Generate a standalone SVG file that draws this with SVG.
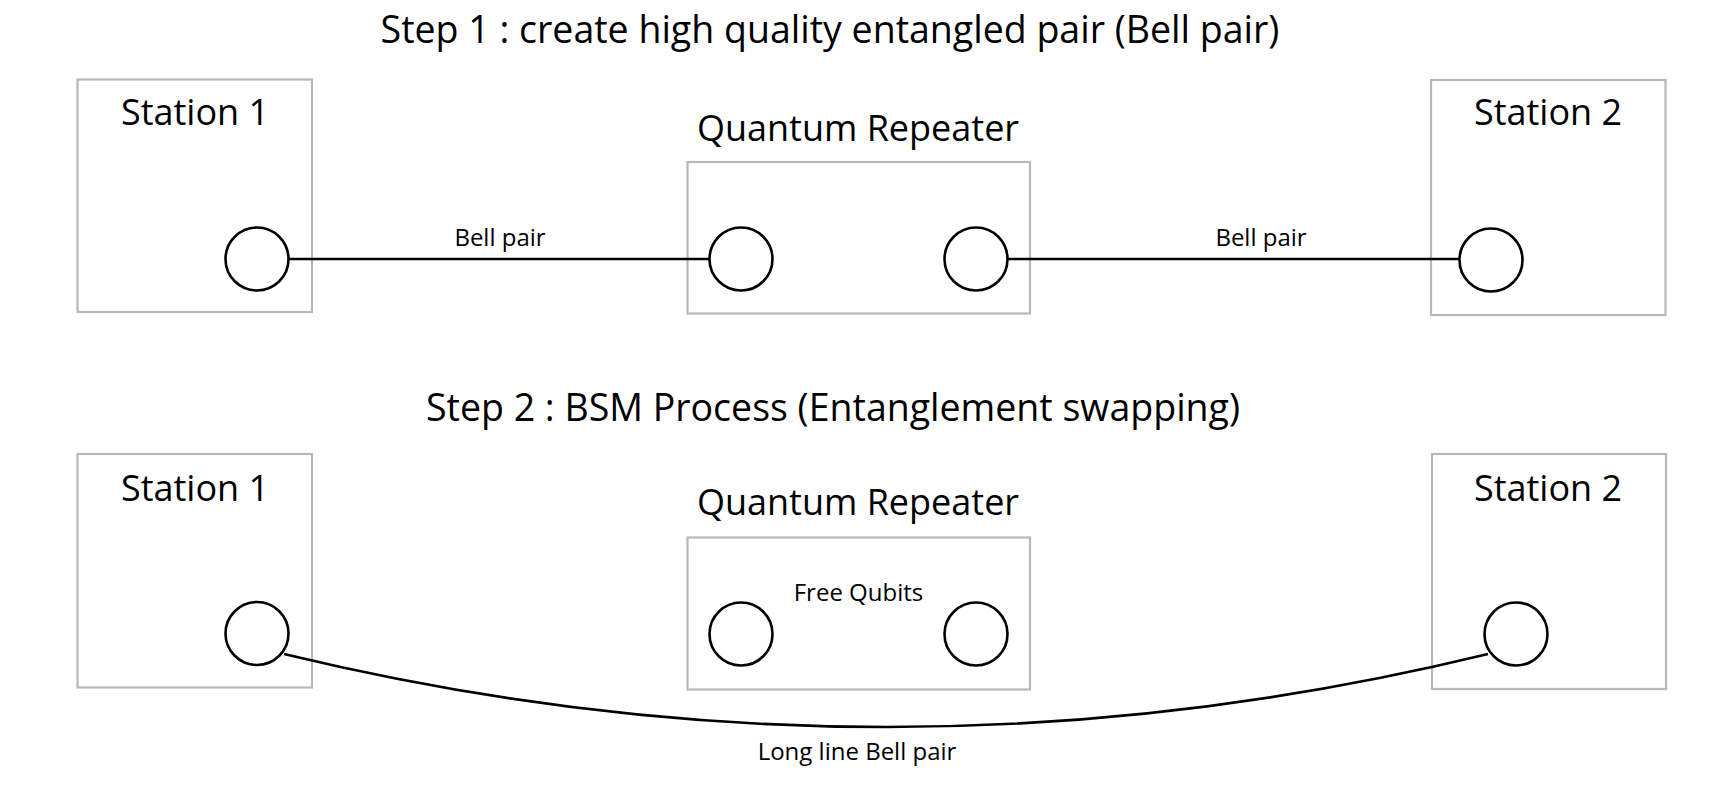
<svg xmlns="http://www.w3.org/2000/svg" width="1723" height="790" viewBox="0 0 1723 790">
<style>
.box{fill:#fff;stroke:#b8b8b8;stroke-width:2.2}
.q{fill:#fff;stroke:#000;stroke-width:2.6}
.ln{fill:none;stroke:#000;stroke-width:2.6}
text{font-family:"Open Sans","Liberation Sans",sans-serif;fill:#000;text-anchor:middle}
.t{font-size:37.5px}
.n{font-size:36px}
.s{font-size:24px}
</style>
<rect width="1723" height="790" fill="#fff"/>
<g id="titles">
<text class="t" x="830" y="43">Step 1 : create high quality entangled pair (Bell pair)</text>
<text class="t" x="833" y="421">Step 2 : BSM Process (Entanglement swapping)</text>
</g>
<g id="s1-station1">
<rect class="box" x="77.5" y="79.5" width="234.5" height="232.5"/>
<text class="n" x="195" y="125">Station 1</text>
</g>
<g id="s1-repeater">
<text class="n" x="858" y="141">Quantum Repeater</text>
<rect class="box" x="687.5" y="162" width="342.5" height="151.5"/>
</g>
<g id="s1-station2">
<rect class="box" x="1431" y="80" width="234.5" height="235"/>
<text class="n" x="1548" y="125">Station 2</text>
</g>
<g id="s2-station1">
<rect class="box" x="77.5" y="454" width="234.5" height="233.5"/>
<text class="n" x="195" y="501">Station 1</text>
</g>
<g id="s2-repeater">
<text class="n" x="858" y="515">Quantum Repeater</text>
<rect class="box" x="687.5" y="537.5" width="342.5" height="152"/>
<text class="s" x="858.5" y="601">Free Qubits</text>
</g>
<g id="s2-station2">
<rect class="box" x="1432" y="454" width="234" height="235"/>
<text class="n" x="1548" y="501">Station 2</text>
</g>
<g id="connectors">
<line class="ln" x1="288" y1="259" x2="710" y2="259"/>
<line class="ln" x1="1007" y1="259" x2="1460" y2="259"/>
<path class="ln" d="M284 654 Q888 800 1488 654"/>
<text class="s" x="500" y="246">Bell pair</text>
<text class="s" x="1261" y="246">Bell pair</text>
<text class="s" x="857" y="760">Long line Bell pair</text>
</g>
<g id="qubits">
<circle class="q" cx="257" cy="259" r="31.5"/>
<circle class="q" cx="741" cy="259" r="31.5"/>
<circle class="q" cx="976" cy="259" r="31.5"/>
<circle class="q" cx="1491" cy="260" r="31.5"/>
<circle class="q" cx="257" cy="633.5" r="31.5"/>
<circle class="q" cx="741" cy="634" r="31.5"/>
<circle class="q" cx="976" cy="634" r="31.5"/>
<circle class="q" cx="1516" cy="634" r="31.5"/>
</g>
</svg>
